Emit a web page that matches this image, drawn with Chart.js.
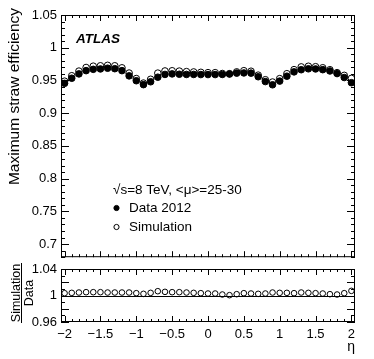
<!DOCTYPE html>
<html>
<head>
<meta charset="utf-8">
<script src="https://cdn.jsdelivr.net/npm/chart.js@4.4.1/dist/chart.umd.min.js"></script>
<style>
    html, body { margin: 0; padding: 0; background: #fff; }
    #wrap { position: relative; width: 374px; height: 359px; }
    canvas { position: absolute; left: 0; }
    #mainChart { top: 0; }
    #ratioChart { top: 240px; }
</style>
</head>
<body>
<div id="wrap">
    <canvas id="mainChart" width="374" height="269"></canvas>
    <canvas id="ratioChart" width="374" height="119"></canvas>
</div>
<script>
const etaBins = [-2.0, -1.9, -1.8, -1.7, -1.6, -1.5, -1.4, -1.3, -1.2, -1.1,
                 -1.0, -0.9, -0.8, -0.7, -0.6, -0.5, -0.4, -0.3, -0.2, -0.1,
                  0.0,  0.1,  0.2,  0.3,  0.4,  0.5,  0.6,  0.7,  0.8,  0.9,
                  1.0,  1.1,  1.2,  1.3,  1.4,  1.5,  1.6,  1.7,  1.8,  1.9,
                  2.0];

const dataEff = [0.9456, 0.9534, 0.9600, 0.9650, 0.9670, 0.9676, 0.9687, 0.9680, 0.9650, 0.9570,
                 0.9496, 0.9436, 0.9480, 0.9550, 0.9592, 0.9600, 0.9595, 0.9592, 0.9592, 0.9590,
                 0.9590, 0.9590, 0.9592, 0.9598, 0.9612, 0.9615, 0.9612, 0.9557, 0.9483, 0.9434,
                 0.9490, 0.9565, 0.9631, 0.9664, 0.9678, 0.9676, 0.9665, 0.9645, 0.9605, 0.9545,
                 0.9466];

const simEff = [0.9489, 0.9572, 0.9643, 0.9698, 0.9718, 0.9724, 0.9731, 0.9724, 0.9693, 0.9613,
                0.9529, 0.9460, 0.9518, 0.9612, 0.9645, 0.9648, 0.9643, 0.9635, 0.9630, 0.9624,
                0.9619, 0.9619, 0.9606, 0.9603, 0.9631, 0.9649, 0.9641, 0.9581, 0.9511, 0.9476,
                0.9528, 0.9603, 0.9665, 0.9707, 0.9717, 0.9710, 0.9694, 0.9664, 0.9619, 0.9578,
                0.9532];

const simOverData = [1.0035, 1.0040, 1.0045, 1.0050, 1.0050, 1.0050, 1.0045, 1.0045, 1.0045, 1.0045,
                     1.0035, 1.0025, 1.0040, 1.0065, 1.0055, 1.0050, 1.0050, 1.0045, 1.0040, 1.0035,
                     1.0030, 1.0030, 1.0015, 1.0005, 1.0020, 1.0035, 1.0030, 1.0025, 1.0030, 1.0045,
                     1.0040, 1.0040, 1.0035, 1.0045, 1.0040, 1.0035, 1.0030, 1.0020, 1.0015, 1.0035,
                     1.0070];

const mainYTicks = [0.7, 0.75, 0.8, 0.85, 0.9, 0.95, 1, 1.05];
const ratioYTicks = [0.96, 1, 1.04];
const etaTicks = [-2, -1.5, -1, -0.5, 0, 0.5, 1, 1.5, 2];

const FONT = "'Liberation Sans', Arial, Helvetica, sans-serif";

function points(ys) {
    return etaBins.map((x, i) => ({ x: x, y: ys[i] }));
}

function tickValues(min, max, step) {
    const out = [];
    const first = Math.ceil(min / step - 1e-6);
    const last = Math.floor(max / step + 1e-6);
    for (let i = first; i <= last; i++) out.push(i * step);
    return out;
}

function isMultiple(v, step) {
    return Math.abs(v / step - Math.round(v / step)) < 1e-6;
}

function fmtNum(v) {
    return Number(v.toFixed(2)).toString();
}

function fmtEta(v) {
    return v < 0 ? '\u2212' + Math.abs(v) : String(v);
}

// ROOT style frame with ticks on the inside, all four sides
const atlasFrame = {
    id: 'atlasFrame',
    afterDatasetsDraw(chart, args, o) {
        const { ctx, chartArea: a, scales: { x, y } } = chart;
        ctx.save();
        ctx.strokeStyle = '#000';
        ctx.lineWidth = 1;
        ctx.beginPath();
        tickValues(x.min, x.max, 0.1).forEach(v => {
            const px = Math.round(x.getPixelForValue(v)) + 0.5;
            const len = isMultiple(v, 0.5) ? o.xMajor : o.xMinor;
            ctx.moveTo(px, a.bottom); ctx.lineTo(px, a.bottom - len);
            ctx.moveTo(px, a.top); ctx.lineTo(px, a.top + len);
        });
        tickValues(y.min, y.max, o.yStep).forEach(v => {
            const py = Math.round(y.getPixelForValue(v)) + 0.5;
            const len = isMultiple(v, o.yMajorStep) ? o.yMajor : o.yMinor;
            ctx.moveTo(a.left, py); ctx.lineTo(a.left + len, py);
            ctx.moveTo(a.right, py); ctx.lineTo(a.right - len, py);
        });
        ctx.stroke();
        ctx.strokeRect(a.left + 0.5, a.top + 0.5, a.width - 1, a.height - 1);
        ctx.restore();
    }
};

// axis title, ATLAS label and legend of the upper pad
const mainText = {
    id: 'mainText',
    afterDraw(chart) {
        const ctx = chart.ctx;
        const ds = chart.data.datasets;
        ctx.save();
        ctx.fillStyle = '#000';

        ctx.save();
        ctx.translate(18.5, 96.5);
        ctx.rotate(-Math.PI / 2);
        ctx.font = '15.5px ' + FONT;
        ctx.textAlign = 'center';
        ctx.textBaseline = 'alphabetic';
        ctx.fillText('Maximum straw efficiency', 0, 0);
        ctx.restore();

        ctx.font = 'italic bold 13.5px ' + FONT;
        ctx.textAlign = 'left';
        ctx.textBaseline = 'alphabetic';
        ctx.fillText('ATLAS', 76, 43);

        ctx.font = '13.5px ' + FONT;
        ctx.fillText('\u221As=8 TeV, <\u03BC>=25-30', 113, 194);

        const rows = [[ds[0], 208], [ds[1], 227]];
        ctx.textBaseline = 'middle';
        rows.forEach(([d, yy]) => {
            ctx.beginPath();
            ctx.arc(116.5, yy, 2.6, 0, Math.PI * 2);
            ctx.fillStyle = d.backgroundColor;
            ctx.fill();
            ctx.strokeStyle = d.borderColor;
            ctx.lineWidth = 1;
            ctx.stroke();
            ctx.fillStyle = '#000';
            ctx.fillText(d.label, 129, yy);
        });
        ctx.restore();
    }
};

// line at 1 and the Simulation / Data title of the ratio pad
const ratioText = {
    id: 'ratioText',
    beforeDatasetsDraw(chart) {
        const { ctx, chartArea: a, scales: { y } } = chart;
        const py = Math.round(y.getPixelForValue(1)) + 0.5;
        ctx.save();
        ctx.strokeStyle = '#000';
        ctx.lineWidth = 1;
        ctx.beginPath();
        ctx.moveTo(a.left, py);
        ctx.lineTo(a.right, py);
        ctx.stroke();
        ctx.restore();
    },
    afterDraw(chart) {
        const ctx = chart.ctx;
        ctx.save();
        ctx.translate(21.5, 53);
        ctx.rotate(-Math.PI / 2);
        ctx.fillStyle = '#000';
        ctx.font = '12.5px ' + FONT;
        ctx.textAlign = 'center';
        ctx.textBaseline = 'alphabetic';
        ctx.fillText('Simulation', 0, -1.5);
        ctx.fillText('Data', 0, 11);
        ctx.strokeStyle = '#000';
        ctx.lineWidth = 1;
        ctx.beginPath();
        ctx.moveTo(-30, 0);
        ctx.lineTo(30, 0);
        ctx.stroke();
        ctx.restore();
    }
};

const yTickStyle = { padding: 4, color: '#000', font: { family: FONT, size: 13 } };

new Chart(document.getElementById('mainChart'), {
    type: 'scatter',
    data: {
        datasets: [{
            label: 'Data 2012',
            data: points(dataEff),
            pointRadius: 3.3,
            backgroundColor: '#000',
            borderColor: '#000',
            borderWidth: 1
        }, {
            label: 'Simulation',
            data: points(simEff),
            pointRadius: 3.3,
            backgroundColor: 'rgba(0,0,0,0)',
            borderColor: '#000',
            borderWidth: 1
        }]
    },
    options: {
        responsive: false,
        animation: false,
        devicePixelRatio: 1,
        events: [],
        layout: { padding: { top: 15, right: 19, bottom: 4, left: 0 } },
        plugins: {
            legend: { display: false },
            tooltip: { enabled: false },
            atlasFrame: { xMajor: 6, xMinor: 3, yStep: 0.01, yMajorStep: 0.05, yMajor: 8, yMinor: 4 }
        },
        scales: {
            x: { type: 'linear', min: -2.05, max: 2.05, display: false },
            y: {
                min: 0.68,
                max: 1.05,
                grid: { display: false, drawTicks: false },
                border: { display: false },
                afterFit: s => { s.width = 61; },
                afterBuildTicks: s => { s.ticks = mainYTicks.map(v => ({ value: v })); },
                ticks: Object.assign({ callback: v => fmtNum(v) }, yTickStyle)
            }
        }
    },
    plugins: [atlasFrame, mainText]
});

new Chart(document.getElementById('ratioChart'), {
    type: 'scatter',
    data: {
        datasets: [{
            label: 'Simulation / Data',
            data: points(simOverData),
            pointRadius: 2.8,
            backgroundColor: 'rgba(0,0,0,0)',
            borderColor: '#000',
            borderWidth: 1
        }]
    },
    options: {
        responsive: false,
        animation: false,
        devicePixelRatio: 1,
        events: [],
        layout: { padding: { top: 29, right: 19, bottom: 0, left: 0 } },
        plugins: {
            legend: { display: false },
            tooltip: { enabled: false },
            atlasFrame: { xMajor: 6, xMinor: 3, yStep: 0.01, yMajorStep: 0.02, yMajor: 8, yMinor: 4 }
        },
        scales: {
            x: {
                type: 'linear',
                min: -2.05,
                max: 2.05,
                grid: { display: false, drawTicks: false },
                border: { display: false },
                afterFit: s => { s.height = 37; },
                afterBuildTicks: s => { s.ticks = etaTicks.map(v => ({ value: v })); },
                ticks: {
                    padding: 5,
                    color: '#000',
                    maxRotation: 0,
                    autoSkip: false,
                    font: { family: FONT, size: 13 },
                    callback: v => fmtEta(v)
                },
                title: {
                    display: true,
                    text: '\u03B7',
                    align: 'end',
                    color: '#000',
                    font: { family: FONT, size: 14 },
                    padding: { top: 0, bottom: 3 }
                }
            },
            y: {
                min: 0.96,
                max: 1.04,
                grid: { display: false, drawTicks: false },
                border: { display: false },
                afterFit: s => { s.width = 61; },
                afterBuildTicks: s => { s.ticks = ratioYTicks.map(v => ({ value: v })); },
                ticks: Object.assign({ callback: v => fmtNum(v) }, yTickStyle)
            }
        }
    },
    plugins: [atlasFrame, ratioText]
});
</script>
</body>
</html>
